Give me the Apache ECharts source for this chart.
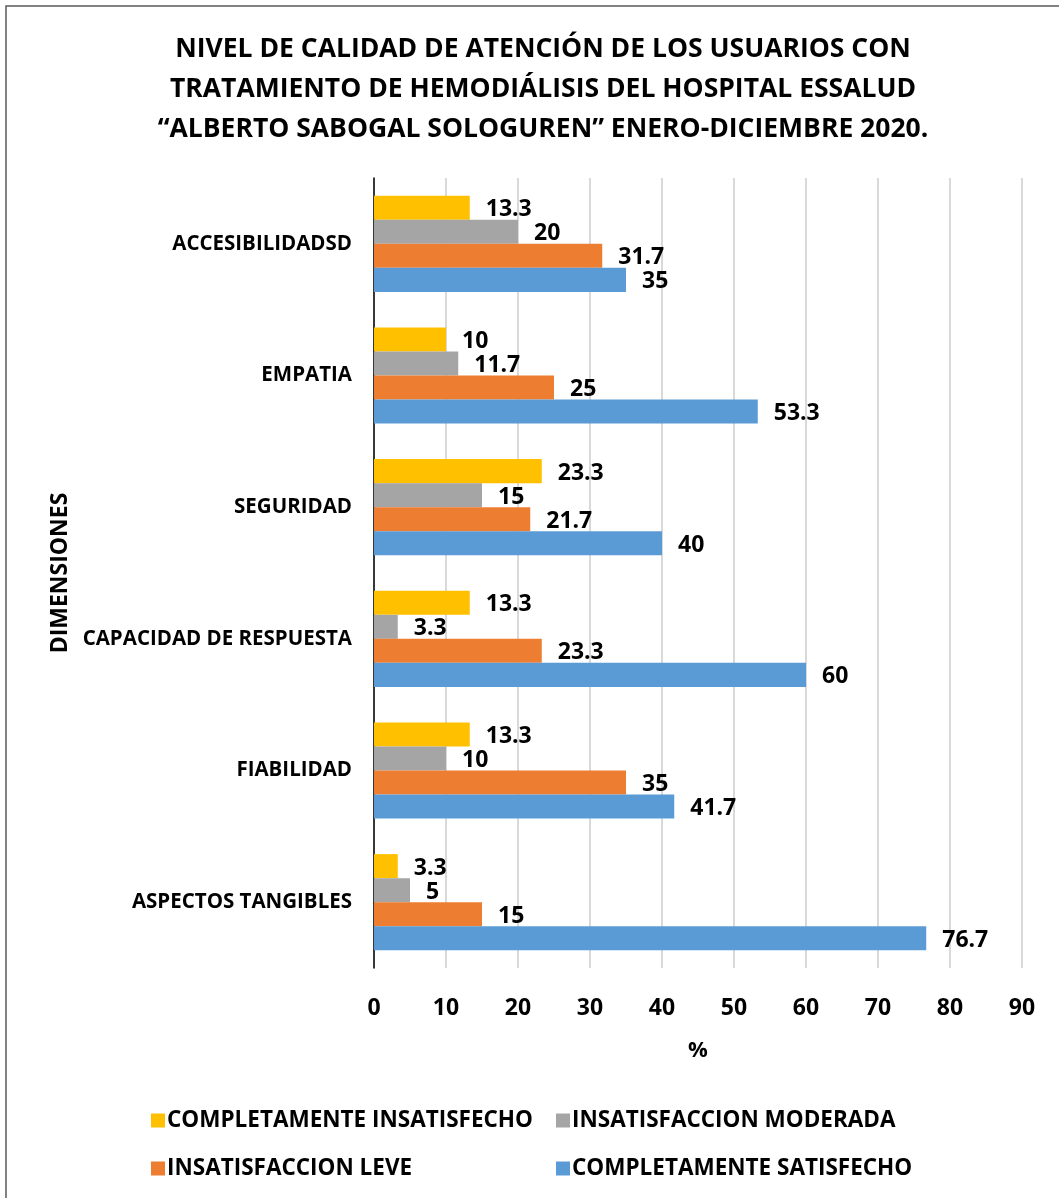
<!DOCTYPE html>
<html>
<head>
<meta charset="utf-8">
<script src="https://cdn.jsdelivr.net/npm/echarts@6/dist/echarts.min.js"></script>
<style>
  html, body { margin: 0; padding: 0; background: #fff; }
  #chart { width: 1059px; height: 1198px; }
</style>
</head>
<body>
<div id="chart"></div>
<script>
// categories, bottom to top
const dimensiones = ['ASPECTOS TANGIBLES', 'FIABILIDAD', 'CAPACIDAD DE RESPUESTA', 'SEGURIDAD', 'EMPATIA', 'ACCESIBILIDADSD'];
const completamenteInsatisfecho = [3.3, 13.3, 13.3, 23.3, 10, 13.3];
const insatisfaccionModerada = [5, 10, 3.3, 15, 11.7, 20];
const insatisfaccionLeve = [15, 35, 23.3, 21.7, 25, 31.7];
const completamenteSatisfecho = [76.7, 41.7, 60, 40, 53.3, 35];

const FONT = '"Open Sans", "Noto Sans", sans-serif';

let chart = echarts.init(document.getElementById('chart'));

function serie(name, data, color) {
  return {
    name: name,
    type: 'bar',
    data: data,
    barGap: 0,
    barCategoryGap: '27%',
    itemStyle: { color: color },
    label: {
      show: true,
      position: 'right',
      distance: 16,
      offset: [0, 2],
      color: '#000',
      fontFamily: FONT,
      fontWeight: 'bold',
      fontSize: 23
    }
  };
}

let legendText = { fontFamily: FONT, fontWeight: 'bold', fontSize: 22.5, color: '#000', padding: [0, 0, 0, -3] };

let option = {
  backgroundColor: '#fff',
  animation: false,
  graphic: [{
    type: 'rect',
    shape: { x: 6, y: 6, width: 1100, height: 1250 },
    style: { fill: 'none', stroke: '#595959', lineWidth: 1.5 }
  }],
  title: {
    text: 'NIVEL DE CALIDAD DE ATENCIÓN DE LOS USUARIOS CON\nTRATAMIENTO DE HEMODIÁLISIS DEL HOSPITAL ESSALUD\n\u201CALBERTO SABOGAL SOLOGUREN\u201D ENERO-DICIEMBRE 2020.',
    left: 538,
    textAlign: 'center',
    top: 24,
    textStyle: {
      fontFamily: FONT,
      fontWeight: 'bold',
      fontSize: 26.5,
      lineHeight: 40,
      color: '#000'
    }
  },
  legend: [{
    data: ['COMPLETAMENTE INSATISFECHO', 'INSATISFACCION LEVE'],
    orient: 'vertical',
    left: 146,
    top: 1104,
    itemWidth: 14,
    itemHeight: 14,
    itemGap: 25,
    icon: 'rect',
    textStyle: legendText
  }, {
    data: ['INSATISFACCION MODERADA', 'COMPLETAMENTE SATISFECHO'],
    orient: 'vertical',
    left: 551,
    top: 1104,
    itemWidth: 14,
    itemHeight: 14,
    itemGap: 25,
    icon: 'rect',
    textStyle: legendText
  }],
  grid: {
    left: 374,
    right: 37,
    top: 178,
    bottom: 230,
    containLabel: false
  },
  xAxis: {
    type: 'value',
    min: 0,
    max: 90,
    interval: 10,
    name: '%',
    nameLocation: 'middle',
    nameGap: 72,
    nameTextStyle: { fontFamily: FONT, fontWeight: 'bold', fontSize: 22, color: '#000' },
    axisLine: { show: false },
    axisTick: { show: false },
    axisLabel: { fontFamily: FONT, fontWeight: 'bold', fontSize: 23, color: '#000', margin: 29 },
    splitLine: { show: true, lineStyle: { color: '#d9d9d9', width: 2 } }
  },
  yAxis: {
    type: 'category',
    data: dimensiones,
    name: 'DIMENSIONES',
    nameLocation: 'middle',
    nameGap: 300,
    nameRotate: 90,
    nameTextStyle: { fontFamily: FONT, fontWeight: 'bold', fontSize: 23, color: '#000' },
    axisLine: { show: true, lineStyle: { color: '#000', width: 1.5 } },
    axisTick: { show: false },
    axisLabel: { fontFamily: FONT, fontWeight: 'bold', fontSize: 20.5, color: '#000', margin: 22 },
    splitLine: { show: false }
  },
  series: [
    serie('COMPLETAMENTE INSATISFECHO', completamenteInsatisfecho, '#FFC000'),
    serie('INSATISFACCION MODERADA', insatisfaccionModerada, '#A5A5A5'),
    serie('INSATISFACCION LEVE', insatisfaccionLeve, '#ED7D31'),
    serie('COMPLETAMENTE SATISFECHO', completamenteSatisfecho, '#5B9BD5')
  ]
};

chart.setOption(option);
</script>
</body>
</html>
